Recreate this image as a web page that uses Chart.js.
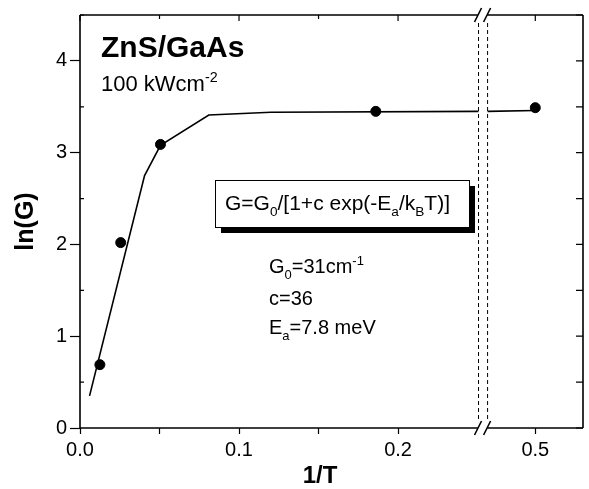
<!DOCTYPE html>
<html>
<head>
<meta charset="utf-8">
<script src="https://cdn.jsdelivr.net/npm/chart.js@4/dist/chart.umd.min.js"></script>
<style>
  html, body { margin: 0; padding: 0; background: #fff; }
</style>
</head>
<body>
<canvas id="chartG" width="589" height="489"></canvas>
<script>
// datos (1/T, ln(G))
const puntosX = [0.0125, 0.0256, 0.0506, 0.186, 0.5];
const puntosY = [0.69, 2.02, 3.09, 3.45, 3.49];
const ajusteX = [0.006, 0.0406, 0.0506, 0.081, 0.12, 0.2506];
const ajusteY = [0.35, 2.75, 3.08, 3.41, 3.44, 3.45];
const ajusteDerX = [0.47, 0.5];
const ajusteDerY = [3.45, 3.46];
const xTicks = [0, 0.05, 0.1, 0.15, 0.2, 0.5];
const xTickLabels = ['0.0', '', '0.1', '', '0.2', '0.5'];
const yTicks = [0, 0.5, 1, 1.5, 2, 2.5, 3, 3.5, 4, 4.5];
const yTickLabels = ['0', '', '1', '', '2', '', '3', '', '4', ''];

// eje x cortado: de 0 a 0.2506, luego salta a 0.47
const corteIzq = 0.2506, corteDer = 0.47, hueco = 0.0057;
function ux(x) { return x <= corteIzq ? x : x - corteDer + corteIzq + hueco; }

const FUENTE = '"Liberation Sans", Arial, Helvetica, sans-serif';

function textoRico(ctx, partes, x, y, size, bold) {
    partes.forEach(([t, tipo]) => {
        const s = tipo ? size * 0.65 : size;
        ctx.font = `${bold ? 'bold ' : ''}${s}px ${FUENTE}`;
        const dy = tipo === 'sub' ? size * 0.3 : (tipo === 'sup' ? -size * 0.42 : 0);
        ctx.fillText(t, x, y + dy);
        x += ctx.measureText(t).width;
    });
    return x;
}

const marco = {
    id: 'marco',
    afterDatasetsDraw(chart) {
        const { ctx, chartArea: a, scales: { x, y } } = chart;
        const b1 = x.getPixelForValue(ux(corteIzq));
        const b2 = x.getPixelForValue(ux(corteDer));
        ctx.save();
        ctx.strokeStyle = '#000';

        // lineas punteadas del corte
        ctx.lineWidth = 1;
        ctx.setLineDash([4, 3]);
        ctx.beginPath();
        [b1, b2].forEach(bx => { ctx.moveTo(bx, a.top + 8); ctx.lineTo(bx, a.bottom - 8); });
        ctx.stroke();
        ctx.setLineDash([]);

        // marco con hueco
        ctx.lineWidth = 1.6;
        ctx.beginPath();
        ctx.moveTo(a.left, a.top); ctx.lineTo(a.left, a.bottom);
        ctx.moveTo(a.right, a.top); ctx.lineTo(a.right, a.bottom);
        [a.top, a.bottom].forEach(yy => {
            ctx.moveTo(a.left, yy); ctx.lineTo(b1, yy);
            ctx.moveTo(b2, yy); ctx.lineTo(a.right, yy);
            ctx.moveTo(b1 - 4, yy + 7); ctx.lineTo(b1 + 3, yy - 7);
            ctx.moveTo(b2 - 4, yy + 7); ctx.lineTo(b2 + 3, yy - 7);
        });
        ctx.stroke();

        // ticks hacia adentro: arriba, derecha y menores de la izquierda
        ctx.lineWidth = 1.2;
        ctx.beginPath();
        xTicks.forEach((v, i) => {
            const px = x.getPixelForValue(ux(v));
            const len = xTickLabels[i] ? 6 : 4;
            ctx.moveTo(px, a.top); ctx.lineTo(px, a.top + len);
        });
        yTicks.forEach((v, i) => {
            const py = y.getPixelForValue(v);
            ctx.moveTo(a.right, py); ctx.lineTo(a.right - 7, py);
            if (!yTickLabels[i]) { ctx.moveTo(a.left, py); ctx.lineTo(a.left + 4, py); }
        });
        ctx.stroke();
        ctx.restore();
    },
    afterDraw(chart) {
        const { ctx } = chart;
        ctx.save();
        ctx.fillStyle = '#000';
        ctx.textBaseline = 'alphabetic';
        ctx.textAlign = 'left';

        textoRico(ctx, [['ZnS/GaAs']], 101, 57, 30, true);
        textoRico(ctx, [['100 kWcm'], ['-2', 'sup']], 101, 91, 22);

        // recuadro con sombra
        ctx.fillRect(221, 186, 254, 47);
        ctx.fillStyle = '#fff';
        ctx.fillRect(215, 180, 254, 47);
        ctx.strokeStyle = '#000';
        ctx.lineWidth = 1;
        ctx.strokeRect(215.5, 180.5, 254, 47);
        ctx.fillStyle = '#000';
        textoRico(ctx, [['G=G'], ['0', 'sub'], ['/[1+c exp(-E'], ['a', 'sub'], ['/k'], ['B', 'sub'], ['T)]']], 225, 210, 21);

        textoRico(ctx, [['G'], ['0', 'sub'], ['=31cm'], ['-1', 'sup']], 269, 273, 20);
        textoRico(ctx, [['c=36']], 269, 305, 20);
        textoRico(ctx, [['E'], ['a', 'sub'], ['=7.8 meV']], 269, 334, 20);

        // titulo del eje x
        ctx.textAlign = 'center';
        ctx.font = `bold 24px ${FUENTE}`;
        ctx.fillText('1/T', 320, 483);
        ctx.restore();
    }
};

new Chart(document.getElementById('chartG'), {
    type: 'line',
    data: {
        datasets: [
            {
                data: ajusteX.map((v, i) => ({ x: ux(v), y: ajusteY[i] })),
                borderColor: '#000', borderWidth: 1.6, pointRadius: 0, tension: 0
            },
            {
                data: ajusteDerX.map((v, i) => ({ x: ux(v), y: ajusteDerY[i] })),
                borderColor: '#000', borderWidth: 1.6, pointRadius: 0, tension: 0
            },
            {
                data: puntosX.map((v, i) => ({ x: ux(v), y: puntosY[i] })),
                showLine: false, pointRadius: 5, pointBackgroundColor: '#000', pointBorderColor: '#000'
            }
        ]
    },
    options: {
        responsive: false,
        animation: false,
        devicePixelRatio: 1,
        layout: { padding: { top: 15, right: 3, left: 0, bottom: 0 } },
        plugins: { legend: { display: false }, tooltip: { enabled: false } },
        scales: {
            x: {
                type: 'linear',
                min: 0,
                max: ux(0.53),
                afterFit: s => { s.height = 61; },
                afterBuildTicks: s => { s.ticks = xTicks.map(v => ({ value: ux(v) })); },
                border: { display: false },
                grid: { drawOnChartArea: false, tickLength: 6, tickWidth: 1.2, tickColor: '#000' },
                ticks: {
                    autoSkip: false, maxRotation: 0, padding: 4, color: '#000',
                    font: { family: FUENTE, size: 20 },
                    callback: (v, i) => xTickLabels[i]
                }
            },
            y: {
                min: 0,
                max: 4.5,
                afterFit: s => { s.width = 80; },
                afterBuildTicks: s => { s.ticks = yTicks.map(v => ({ value: v })); },
                border: { display: false },
                grid: {
                    drawOnChartArea: false, tickLength: 10, tickWidth: 1.2,
                    tickColor: c => (yTickLabels[c.index] ? '#000' : 'rgba(0,0,0,0)')
                },
                ticks: {
                    autoSkip: false, padding: 3, color: '#000',
                    font: { family: FUENTE, size: 20 },
                    callback: (v, i) => yTickLabels[i]
                },
                title: {
                    display: true, text: 'ln(G)', color: '#000',
                    font: { family: FUENTE, size: 25, weight: 'bold' },
                    padding: { top: 11, bottom: 0 }
                }
            }
        }
    },
    plugins: [marco]
});
</script>
</body>
</html>
